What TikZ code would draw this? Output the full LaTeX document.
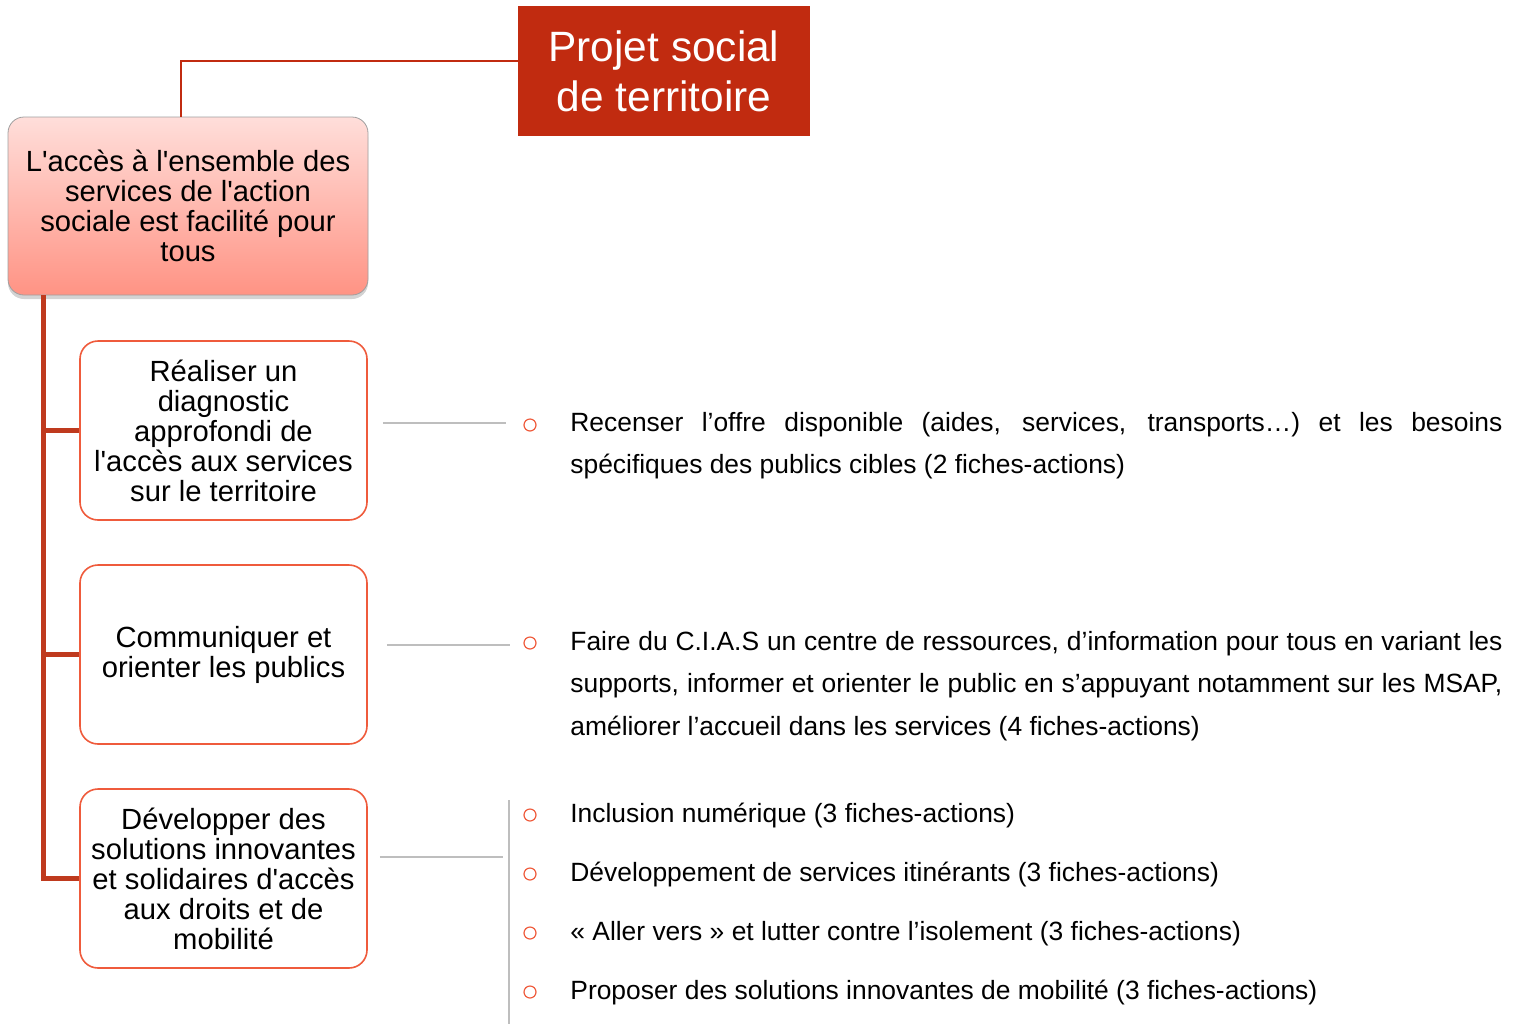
\documentclass[tikz,border=0pt]{standalone}
\usepackage{fontspec}
\setmainfont{Liberation Sans}
\newfontfamily\plainsans{Liberation Sans}
\usetikzlibrary{positioning,calc,shadows}

\definecolor{projred}{HTML}{C12B10}
\definecolor{spinered}{HTML}{BF3A1E}
\definecolor{boxorange}{HTML}{EF5B3C}
\definecolor{linegray}{HTML}{BEBEBE}
\definecolor{goaltop}{HTML}{FFDEDA}
\definecolor{goalbottom}{HTML}{FF9384}

\begin{document}
\begin{tikzpicture}[
    x=0.5pt, y=-0.5pt,
    font=\fontsize{13.2}{21.3}\selectfont,
    titlebox/.style={rectangle, fill=projred, text=white, inner sep=0pt, minimum width=146pt, minimum height=65pt, align=center, font=\fontsize{21.2}{25}\selectfont},
    goalbox/.style={rectangle, draw=gray!75, rounded corners=8pt, top color=goaltop, bottom color=goalbottom, inner sep=0pt, minimum width=180pt, minimum height=89pt, align=center, font=\plainsans\fontsize{14.6}{15}\selectfont, drop shadow={shadow xshift=0pt, shadow yshift=-2pt, opacity=0.35}},
    objbox/.style={rectangle, draw=boxorange, line width=0.8pt, rounded corners=9pt, fill=white, inner sep=0pt, minimum width=143.5pt, minimum height=89.5pt, align=center, font=\plainsans\fontsize{14.6}{15}\selectfont},
    desc/.style={anchor=base west, inner sep=0pt, text width=466pt, align=justify},
    action/.style={anchor=base west, inner sep=0pt},
    puce/.style={circle, draw=boxorange, line width=0.6pt, minimum size=6pt, inner sep=0pt},
    spine/.style={draw=spinered, line width=2.5pt},
    link/.style={draw=linegray, line width=1pt}
]
    \useasboundingbox (0,0) rectangle (1520,1024);

    % Title and main goal
    \node[titlebox] (title) at (664,71) {Projet social\\de territoire};
    \node[goalbox] (goal) at (188,206) {L'accès à l'ensemble des\\services de l'action\\sociale est facilité pour\\tous};
    \draw[projred, line width=1pt] ([yshift=5pt]title.west) -| ([xshift=-3.5pt]goal.north);

    % Objectives
    \node[objbox] (obj1) at (223.5,430.5) {Réaliser un\\diagnostic\\approfondi de\\l'accès aux services\\sur le territoire};
    \node[objbox] (obj2) at (223.5,654.5) {Communiquer et\\orienter les publics};
    \node[objbox] (obj3) at (223.5,878.5) {Développer des\\solutions innovantes\\et solidaires d'accès\\aux droits et de\\mobilité};

    % Spine
    \coordinate (spinetop) at ([xshift=18pt]goal.south west);
    \draw[spine] (spinetop) |- (obj3.west);
    \draw[spine] (spinetop |- obj1.west) -- (obj1.west);
    \draw[spine] (spinetop |- obj2.west) -- (obj2.west);

    % Links to actions
    \draw[link] ([xshift=7.5pt, yshift=3.75pt]obj1.east) -- ++(123,0);
    \draw[link] ([xshift=9.5pt, yshift=4.75pt]obj2.east) -- ++(123,0);
    \draw[link] ([xshift=6pt, yshift=10.75pt]obj3.east) -- ++(123,0);
    \draw[link] (509,800) -- (509,1024);

    % Bullets
    \node[puce] (p1) at (530,425) {};
    \node[puce] (p2) at (530,643) {};
    \node[puce] (p3) at (530,815) {};
    \node[puce] (p4) at (530,874) {};
    \node[puce] (p5) at (530,933) {};
    \node[puce] (p6) at (530,992) {};

    % Actions
    \node[desc] (d1) at (570,431) {\hyphenpenalty=10000 Recenser l’offre disponible (aides, services, transports…) et les besoins\linebreak spécifiques des publics cibles (2 fiches-actions)};
    \node[desc] (d2) at (570,650) {\hyphenpenalty=10000 Faire du C.I.A.S un centre de ressources, d’information pour tous en variant les\linebreak supports, informer et orienter le public en s’appuyant notamment sur les MSAP,\linebreak améliorer l’accueil dans les services (4 fiches-actions)};
    \node[action] (a1) at (570,822) {Inclusion numérique (3 fiches-actions)};
    \node[action] (a2) at (570,881) {Développement de services itinérants (3 fiches-actions)};
    \node[action] (a3) at (570,940) {« Aller vers » et lutter contre l’isolement (3 fiches-actions)};
    \node[action] (a4) at (570,999) {Proposer des solutions innovantes de mobilité (3 fiches-actions)};

\end{tikzpicture}
\end{document}
